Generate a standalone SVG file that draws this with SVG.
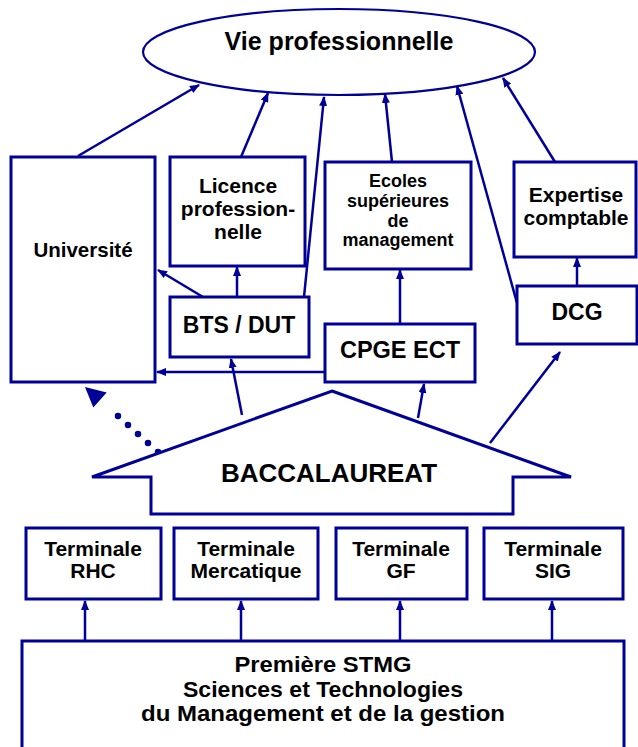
<svg xmlns="http://www.w3.org/2000/svg" width="638" height="747" viewBox="0 0 638 747">
<style>
.box{fill:#fff;stroke:#000099;stroke-width:3}
.con{fill:none;stroke:#000099;stroke-width:2.5;marker-end:url(#ah)}
text{font-family:"Liberation Sans",Arial,sans-serif;font-weight:bold;fill:#000;text-anchor:middle}
</style>
<defs>
<marker id="ah" markerUnits="userSpaceOnUse" markerWidth="10" markerHeight="8" refX="9" refY="4" orient="auto">
<path d="M0,0 L10,4 L0,8 z" fill="#000099"/>
</marker>
</defs>
<rect width="638" height="747" fill="#fff"/>
<g id="connectors">
<line class="con" x1="78" y1="156" x2="199" y2="85"/>
<line class="con" x1="241" y1="157" x2="268" y2="93"/>
<line class="con" x1="304" y1="297" x2="324" y2="97"/>
<line class="con" x1="392" y1="162" x2="385" y2="94"/>
<line class="con" x1="517" y1="303" x2="457" y2="86"/>
<line class="con" x1="555" y1="162" x2="503" y2="78"/>
<line class="con" x1="237" y1="297" x2="237" y2="267"/>
<line class="con" x1="203" y1="297" x2="158" y2="270"/>
<line class="con" x1="325" y1="372" x2="157" y2="372"/>
<line class="con" x1="400" y1="324" x2="400" y2="270"/>
<line class="con" x1="577" y1="286" x2="577" y2="258"/>
<line class="con" x1="242" y1="415" x2="231" y2="359"/>
<line class="con" x1="418" y1="418" x2="424" y2="384"/>
<line class="con" x1="490" y1="443" x2="560" y2="352"/>
<line class="con" x1="85" y1="641" x2="85" y2="601"/>
<line class="con" x1="241" y1="641" x2="241" y2="601"/>
<line class="con" x1="400" y1="641" x2="400" y2="601"/>
<line class="con" x1="552" y1="641" x2="552" y2="601"/>
<line x1="158" y1="452" x2="108" y2="407" stroke="#000099" stroke-width="6.5" stroke-linecap="round" stroke-dasharray="0 13.46"/>
<polygon points="85,387 106.7,392.5 93.3,407.5" fill="#000099"/>
</g>
<g id="vie">
<ellipse cx="339" cy="52" rx="196" ry="43" fill="#fff" stroke="#000099" stroke-width="2.2"/>
<text x="339" y="50" font-size="25">Vie professionnelle</text>
</g>
<g id="universite">
<rect class="box" x="11" y="157" width="144" height="225"/>
<text x="83" y="257" font-size="20.5">Université</text>
</g>
<g id="licence">
<rect class="box" x="170" y="157" width="135" height="109"/>
<text x="238" y="193" font-size="21">Licence</text>
<text x="238" y="216" font-size="21">profession-</text>
<text x="238" y="239" font-size="21">nelle</text>
</g>
<g id="bts">
<rect class="box" x="170" y="297" width="139" height="60"/>
<text x="239" y="333" font-size="23">BTS / DUT</text>
</g>
<g id="ecoles">
<rect class="box" x="325" y="162" width="146" height="107"/>
<text x="398" y="187" font-size="18">Ecoles</text>
<text x="398" y="207" font-size="18">supérieures</text>
<text x="398" y="227" font-size="18">de</text>
<text x="398" y="246" font-size="18">management</text>
</g>
<g id="cpge">
<rect class="box" x="325" y="324" width="150" height="58"/>
<text x="400" y="358" font-size="23.5">CPGE ECT</text>
</g>
<g id="expertise">
<rect class="box" x="514" y="162" width="122" height="95"/>
<text x="576" y="202" font-size="21">Expertise</text>
<text x="576" y="225" font-size="21">comptable</text>
</g>
<g id="dcg">
<rect class="box" x="517" y="286" width="120" height="58"/>
<text x="577" y="320" font-size="23">DCG</text>
</g>
<g id="bac">
<polygon points="332,391 571,477 513,477 513,514 151,514 151,477 92,477" fill="#fff" stroke="#000099" stroke-width="3"/>
<text x="329" y="482" font-size="26">BACCALAUREAT</text>
</g>
<g id="t-rhc">
<rect class="box" x="26" y="528" width="135" height="71"/>
<text x="93" y="556" font-size="21">Terminale</text>
<text x="93" y="578" font-size="21">RHC</text>
</g>
<g id="t-mercatique">
<rect class="box" x="174" y="528" width="144" height="71"/>
<text x="246" y="556" font-size="21">Terminale</text>
<text x="246" y="578" font-size="21">Mercatique</text>
</g>
<g id="t-gf">
<rect class="box" x="336" y="528" width="131" height="71"/>
<text x="401" y="556" font-size="21">Terminale</text>
<text x="401" y="578" font-size="21">GF</text>
</g>
<g id="t-sig">
<rect class="box" x="484" y="528" width="139" height="71"/>
<text x="553" y="556" font-size="21">Terminale</text>
<text x="553" y="578" font-size="21">SIG</text>
</g>
<g id="premiere">
<rect class="box" x="22" y="641" width="602" height="120"/>
<text x="323" y="672" font-size="22" textLength="177" lengthAdjust="spacingAndGlyphs">Première STMG</text>
<text x="323" y="696.5" font-size="22" textLength="280" lengthAdjust="spacingAndGlyphs">Sciences et Technologies</text>
<text x="323" y="721" font-size="22" textLength="364" lengthAdjust="spacingAndGlyphs">du Management et de la gestion</text>
</g>
</svg>
